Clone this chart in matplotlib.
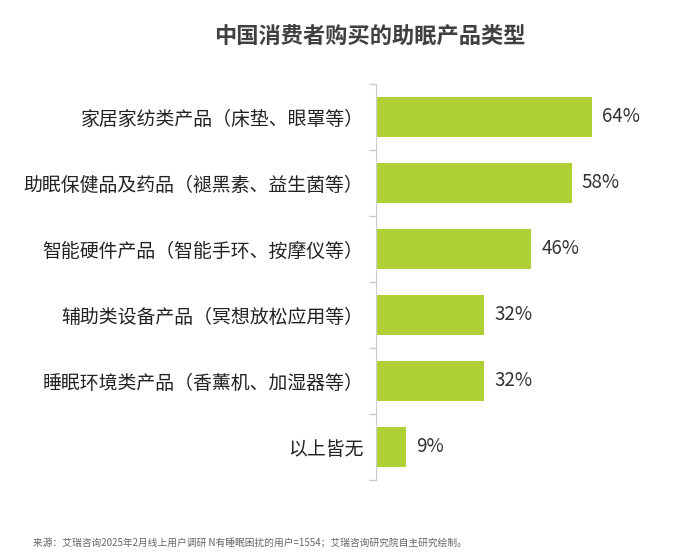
import matplotlib
matplotlib.use("Agg")
import matplotlib.pyplot as plt

plt.rcParams['font.family'] = ['Noto Sans CJK SC', 'DejaVu Sans']

categories = [
    "家居家纺类产品（床垫、眼罩等）",
    "助眠保健品及药品（褪黑素、益生菌等）",
    "智能硬件产品（智能手环、按摩仪等）",
    "辅助类设备产品（冥想放松应用等）",
    "睡眠环境类产品（香薰机、加湿器等）",
    "以上皆无",
]
values = [64, 58, 46, 32, 32, 9]

bar_color = "#afd135"

fig = plt.figure(figsize=(6.76, 5.54), dpi=100)
ax = fig.add_axes([376/676, 1 - 480/554, 300/676, 396/554])

y = list(range(len(categories)))
ax.barh(y, values, height=0.62, color=bar_color)
ax.set_ylim(len(categories) - 0.5, -0.5)
ax.set_xlim(0, 300/3.375)

# value labels just past the bar ends
for yi, v in zip(y, values):
    ax.text(v + 3.0, yi, f"{v}%", va="center", ha="left", fontsize=13.5, color="#333333")

ax.set_yticks(y)
ax.set_yticklabels(categories, fontsize=13.6, color="#222222")
ax.set_yticks([i + 0.5 for i in range(-1, len(categories))], minor=True)
ax.tick_params(axis="y", which="major", length=0, pad=9)
ax.tick_params(axis="y", which="minor", length=5, color="#cccccc", width=1)
ax.set_xticks([])
for s in ["top", "right", "bottom"]:
    ax.spines[s].set_visible(False)
ax.spines["left"].set_color("#cccccc")

fig.text(370/676, 1 - 36/554, "中国消费者购买的助眠产品类型", ha="center", va="center",
         fontsize=16, fontweight="bold", color="#404040")
fig.text(33/676, 1 - 543/554,
         "来源：艾瑞咨询2025年2月线上用户调研 N有睡眠困扰的用户=1554；艾瑞咨询研究院自主研究绘制。",
         ha="left", va="center", fontsize=7, color="#666666")

fig.savefig("out.png", dpi=100)
